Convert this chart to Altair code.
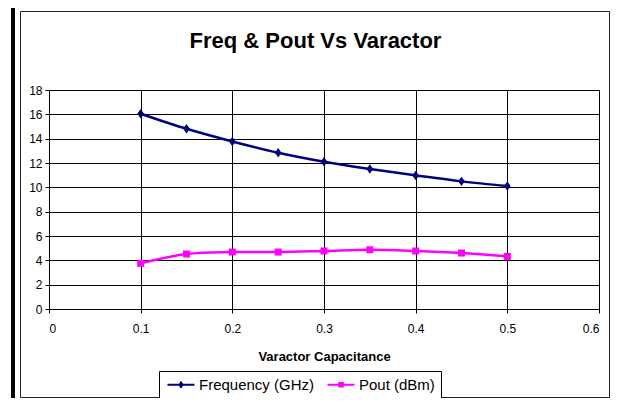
import altair as alt
import pandas as pd

capacitance = [0.1, 0.15, 0.2, 0.25, 0.3, 0.35, 0.4, 0.45, 0.5]
frequency_ghz = [16.05, 14.81, 13.77, 12.84, 12.10, 11.50, 10.98, 10.49, 10.10]
pout_dbm = [3.75, 4.52, 4.68, 4.68, 4.77, 4.87, 4.77, 4.60, 4.32]
series_names = ["Frequency (GHz)", "Pout (dBm)"]
series_colors = ["#000080", "#FF00FF"]
x_ticks = [0, 0.1, 0.2, 0.3, 0.4, 0.5, 0.6]
y_ticks = [0, 2, 4, 6, 8, 10, 12, 14, 16, 18]
chart_title = ["Freq & Pout Vs Varactor"]

df = pd.DataFrame({
    "cap": capacitance + capacitance,
    "value": frequency_ghz + pout_dbm,
    "series": [series_names[0]] * len(capacitance) + [series_names[1]] * len(capacitance),
})

FONT = "Liberation Sans"

x_enc = alt.X(
    "cap:Q",
    scale=alt.Scale(domain=[0, 0.6], nice=False, zero=False),
    axis=alt.Axis(values=x_ticks, format="~g", title="Varactor Capacitance",
                  titleFont=FONT, titleFontSize=13, titleFontWeight="bold",
                  titleY=51, titleBaseline="alphabetic", labelPadding=10),
)
y_enc = alt.Y(
    "value:Q",
    scale=alt.Scale(domain=[0, 18], nice=False),
    axis=alt.Axis(values=y_ticks, title=None, labelPadding=3),
)

base = alt.Chart(df)

legend_paths = [
    "M-1,-0.2H4.4V0.2H-1Z M1.7,-0.8L2.25,0L1.7,0.8L1.15,0Z",
    "M-1,-0.2H4.4V0.2H-1Z M1.15,-0.55H2.25V0.55H1.15Z",
]

# decorative chart frame (Excel-style borders)
frame_data = pd.DataFrame({"k": [0]})
inner_frame = alt.Chart(frame_data).mark_rect(fill="transparent", stroke="#222222", strokeWidth=1).encode(
    x=alt.value(-28.5), x2=alt.value(560.5), y=alt.value(-78.5), y2=alt.value(307.5)
)
outer_left = alt.Chart(frame_data).mark_rect(color="black").encode(
    x=alt.value(-38), x2=alt.value(-34), y=alt.value(-82), y2=alt.value(308)
)

title_mark = alt.Chart(pd.DataFrame({"t": chart_title})).mark_text(
    font=FONT, fontSize=22, fontWeight="bold", color="black", align="center", baseline="alphabetic"
).encode(text="t:N", x=alt.value(266.5), y=alt.value(-42))

line_freq = base.transform_filter(alt.datum.series == series_names[0]).mark_line(
    strokeWidth=2.5, interpolate="catmull-rom", color=series_colors[0]
).encode(x=x_enc, y=y_enc)
line_pout = base.transform_filter(alt.datum.series == series_names[1]).mark_line(
    strokeWidth=2.5, interpolate="catmull-rom", color=series_colors[1]
).encode(x=x_enc, y=y_enc)

pts_freq = base.transform_filter(alt.datum.series == series_names[0]).mark_point(
    filled=True, opacity=1, shape="M0,-1L0.7,0L0,1L-0.7,0Z", size=90, color=series_colors[0]
).encode(x=x_enc, y=y_enc)
pts_pout = base.transform_filter(alt.datum.series == series_names[1]).mark_point(
    filled=True, opacity=1, shape="square", size=49, color=series_colors[1]
).encode(x=x_enc, y=y_enc)

leg = alt.Legend(
    title=None, orient="none", legendX=110, legendY=281, direction="horizontal",
    padding=6, strokeColor="black", fillColor="white",
    labelFont=FONT, labelFontSize=15, labelColor="black", labelOffset=19,
    symbolSize=100, symbolStrokeWidth=0, symbolOpacity=1, columnPadding=10,
)
# legend-only layer: draws no marks (empty after filter); entries come from the explicit domain
legend_layer = base.transform_filter("datum.cap < 0").mark_point(filled=True).encode(
    x=x_enc, y=y_enc,
    fill=alt.Fill("series:N", scale=alt.Scale(domain=series_names, range=series_colors), legend=leg),
    shape=alt.Shape("series:N", scale=alt.Scale(domain=series_names, range=legend_paths), legend=leg),
)

chart = alt.layer(outer_left, inner_frame, title_mark, line_freq, line_pout,
                  pts_freq, pts_pout, legend_layer).properties(
    width=550, height=219,
    padding={"left": 41, "top": 82, "right": 11, "bottom": 89},
    autosize=alt.AutoSizeParams(type="none"),
).configure_axis(
    labelFont=FONT, labelFontSize=12, labelColor="black",
    tickColor="black", tickSize=4, domainColor="black",
    gridColor="black", gridWidth=1, gridOpacity=1, titleColor="black",
).configure_view(
    stroke="black", strokeWidth=1
)

chart.save("out.html", embed_options={"renderer": "svg", "actions": False})
